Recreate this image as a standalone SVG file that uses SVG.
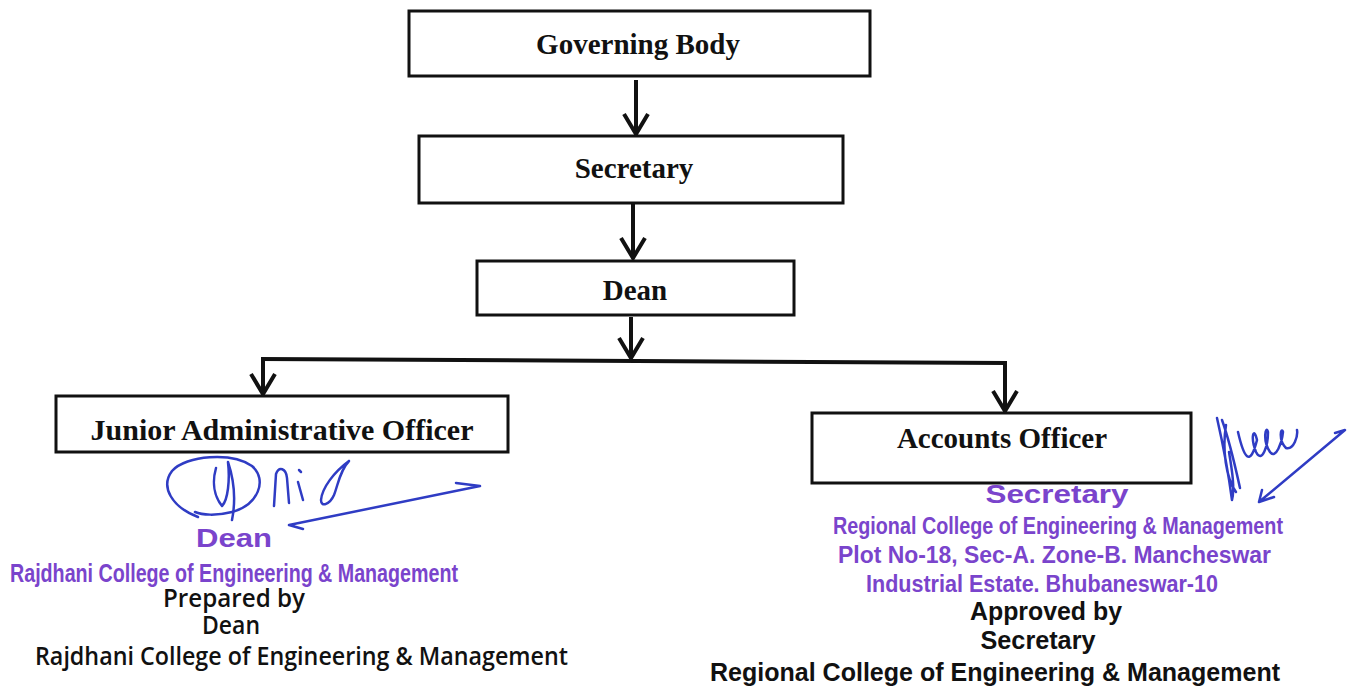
<svg xmlns="http://www.w3.org/2000/svg" width="1350" height="693" viewBox="0 0 1350 693">
<style>
.box{fill:#fff;stroke:#111;stroke-width:3}
.t{font-family:"Liberation Serif","Times New Roman",serif;font-weight:bold;font-size:29px;fill:#111;text-anchor:middle}
.con{stroke:#111;stroke-width:4;fill:none}
.stamp{font-family:"Liberation Sans",Arial,sans-serif;font-weight:bold;fill:#7a44cc}
.blk{font-family:"Liberation Sans",Arial,sans-serif;font-weight:bold;fill:#111}
.blk2{font-family:"Open Sans","Liberation Sans",sans-serif;font-weight:600;fill:#111}
.ink{fill:none;stroke:#2f3cc4;stroke-width:2.5;stroke-linecap:round;stroke-linejoin:round}
</style>
<defs>
<marker id="ah" markerUnits="userSpaceOnUse" orient="auto" refX="0" refY="0" overflow="visible">
<path d="M-20,-12 L0,0 L-20,12" fill="none" stroke="#111" stroke-width="4"/>
</marker>
</defs>
<rect width="1350" height="693" fill="#fff"/>
<g id="connectors">
<line class="con" x1="636" y1="80" x2="636" y2="134" marker-end="url(#ah)"/>
<line class="con" x1="633" y1="204" x2="633" y2="258" marker-end="url(#ah)"/>
<line class="con" x1="631" y1="317" x2="631" y2="358" marker-end="url(#ah)"/>
<line class="con" x1="261" y1="359" x2="1007" y2="363"/>
<line class="con" x1="263" y1="359" x2="263" y2="394" marker-end="url(#ah)"/>
<line class="con" x1="1005" y1="363" x2="1005" y2="411" marker-end="url(#ah)"/>
</g>
<g id="governing-body">
<rect class="box" x="409" y="11" width="461" height="65"/>
<text class="t" x="638" y="54">Governing Body</text>
</g>
<g id="secretary">
<rect class="box" x="419" y="136" width="424" height="67"/>
<text class="t" x="634" y="178">Secretary</text>
</g>
<g id="dean">
<rect class="box" x="477" y="261" width="317" height="54"/>
<text class="t" x="635" y="300">Dean</text>
</g>
<g id="junior-administrative-officer">
<rect class="box" x="56" y="396" width="452" height="56"/>
<text class="t" x="282" y="440" textLength="383" lengthAdjust="spacingAndGlyphs">Junior Administrative Officer</text>
</g>
<g id="accounts-officer">
<rect class="box" x="812" y="413" width="379" height="70"/>
<text class="t" x="1002" y="448">Accounts Officer</text>
</g>
<g id="left-signature">
<path class="ink" d="M198,517 C172,507 160,487 172,471 C186,455 232,452 252,466 C268,480 258,505 232,512 C216,516 202,515 195,512"/>
<path class="ink" d="M216,468 C212,482 214,496 222,506 C228,500 230,480 228,462 C234,480 236,500 232,520"/>
<path class="ink" d="M274,506 L276,474 C279,466 286,468 287,478 L289,503"/>
<path class="ink" d="M298,482 L303,500 M299,470 L301,472"/>
<path class="ink" d="M349,461 C334,472 322,488 321,500 C321,508 330,504 334,495 C338,485 340,470 349,461"/>
<path class="ink" d="M289,525 L480,486 L456,483 M289,525 L303,529"/>
</g>
<g id="right-signature">
<path class="ink" d="M1217,418 C1222,440 1228,470 1232,500 C1235,488 1232,470 1229,452 M1222,420 C1230,442 1236,470 1240,488 M1226,425 C1222,450 1226,478 1236,492"/>
<path class="ink" d="M1238,432 C1244,458 1250,468 1257,440 C1254,426 1250,436 1256,452 C1262,464 1268,446 1268,432 C1266,424 1262,440 1270,452 C1276,460 1282,442 1283,432 C1281,426 1278,440 1286,448 C1294,450 1298,436 1297,430"/>
<path class="ink" d="M1259,502 L1345,430 L1335,433 M1259,502 L1262,490 M1259,502 L1274,497"/>
</g>
<g id="left-stamp">
<text class="stamp" x="234" y="547" font-size="26" text-anchor="middle" textLength="76" lengthAdjust="spacingAndGlyphs">Dean</text>
<text class="stamp" x="10" y="582" font-size="25" textLength="448" lengthAdjust="spacingAndGlyphs">Rajdhani College of Engineering &amp; Management</text>
<text class="blk2" x="234" y="607" font-size="25" text-anchor="middle" textLength="142" lengthAdjust="spacingAndGlyphs">Prepared by</text>
<text class="blk2" x="231" y="634" font-size="25" text-anchor="middle" textLength="58" lengthAdjust="spacingAndGlyphs">Dean</text>
<text class="blk2" x="35" y="665" font-size="25" textLength="533" lengthAdjust="spacingAndGlyphs">Rajdhani College of Engineering &amp; Management</text>
</g>
<g id="right-stamp">
<text class="stamp" x="1057" y="503" font-size="26" text-anchor="middle" textLength="143" lengthAdjust="spacingAndGlyphs">Secretary</text>
<text class="stamp" x="833" y="534" font-size="24" textLength="450" lengthAdjust="spacingAndGlyphs">Regional College of Engineering &amp; Management</text>
<text class="stamp" x="838" y="563" font-size="24" textLength="433" lengthAdjust="spacingAndGlyphs">Plot No-18, Sec-A. Zone-B. Mancheswar</text>
<text class="stamp" x="866" y="592" font-size="24" textLength="352" lengthAdjust="spacingAndGlyphs">Industrial Estate. Bhubaneswar-10</text>
<text class="blk" x="1046" y="620" font-size="25" text-anchor="middle" textLength="152" lengthAdjust="spacingAndGlyphs">Approved by</text>
<text class="blk" x="1038" y="649" font-size="25" text-anchor="middle" textLength="115" lengthAdjust="spacingAndGlyphs">Secretary</text>
<text class="blk" x="710" y="681" font-size="25" textLength="570" lengthAdjust="spacingAndGlyphs">Regional College of Engineering &amp; Management</text>
</g>
</svg>
